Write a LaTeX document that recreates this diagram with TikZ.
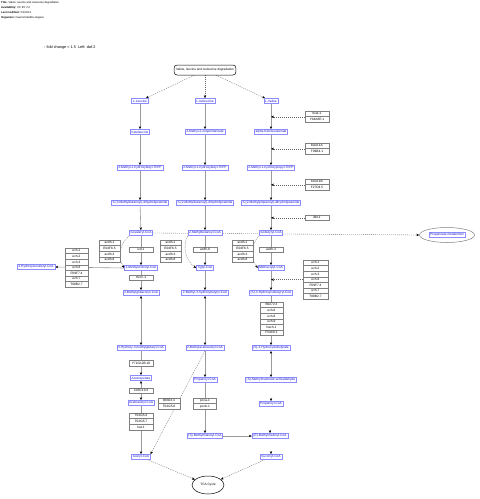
\documentclass[tikz,border=0pt]{standalone}
\usepackage{fontspec}
\setmainfont{Liberation Sans}
\usetikzlibrary{shapes.geometric,arrows.meta,calc}
\pgfdeclarelayer{back}
\pgfdeclarelayer{bg}
\pgfsetlayers{back,bg,main}
\definecolor{metb}{HTML}{8C8CFF}
\definecolor{mett}{HTML}{1010D0}
\definecolor{genb}{HTML}{808080}
\definecolor{lineg}{HTML}{9A9A9A}
\newcommand\gstack[5][24]{%
  \foreach \g [count=\i] in {#5} {
    \node[gene=#1pt] (#2-\i) at (#3,{#4+(\i-0.5)*5.6}) {\g};
  }%
}
\tikzset{
 tip/.tip={Stealth[length=3pt,width=2.4pt,color=black]},
 met/.style={draw=metb, line width=0.6pt, fill=white, text=mett, font=\fontsize{3.2}{3.6}\selectfont, inner xsep=1.2pt, inner ysep=0.6pt, minimum height=5pt},
 gene/.style={draw=genb, line width=0.5pt, fill=white, text=black, font=\fontsize{3.2}{3.6}\selectfont, minimum width=#1, minimum height=5.6pt, inner sep=0pt},
 gene/.default=24pt,
 conv/.style={draw=lineg, line width=0.6pt, -tip},
 conv2/.style={draw=lineg, line width=0.6pt, tip-tip},
 dconv/.style={draw=black!60, line width=0.35pt, dash pattern=on 1pt off 1pt, -tip},
 hdr/.style={anchor=west, font=\fontsize{2.7}{3}\selectfont, inner sep=0pt},
}
\begin{document}
\begin{tikzpicture}[x=1pt,y=-1pt]
\begin{pgfonlayer}{back}
\fill[white] (0,0) rectangle (480,499);
\end{pgfonlayer}
\useasboundingbox (0,0) rectangle (480,499);
% header
\node[hdr] (h1) at (1,3) {\textbf{Title:} Valine, leucine and isoleucine degradation};
\node[hdr] (h2) at (1,8) {\textbf{Availability:} CC BY 2.0};
\node[hdr] (h3) at (1,13) {\textbf{Last modified:} 2/1/2013};
\node[hdr] (h4) at (1,18) {\textbf{Organism:} Caenorhabditis elegans};
\node[anchor=west, font=\fontsize{3.8}{4.4}\selectfont, inner sep=0pt] (ttl) at (44,48) {: fold change < 1.5 \ Left: daf-2};
% top node
\node[draw, line width=0.5pt, rounded corners=3pt, fill=white, font=\fontsize{3.1}{3.5}\selectfont, minimum height=10pt, inner xsep=2pt] (top) at (205,70) {Valine, leucine and isoleucine degradation};
% metabolites
\node[met] (L1) at (140,101) {L-Leucine};
\node[met] (M1) at (205,101) {L-Isoleucine};
\node[met] (R1) at (271,101) {L-Valine};
\node[met] (L2) at (140,132) {Ketoleucine};
\node[met] (M2) at (205,132) {3-Methyl-2-oxopentanoate};
\node[met] (R2) at (271,132) {alpha-Ketoisovalerate};
\node[met] (L3) at (140,168) {3-Methyl-1-hydroxybutyl-ThPP};
\node[met] (M3) at (205,168) {2-Methyl-1-hydroxybutyl-ThPP};
\node[met] (R3) at (271,168) {2-Methyl-1-hydroxypropyl-ThPP};
\node[met] (L4) at (140,203) {S-(3-Methylbutanoyl)-dihydrolipoamide};
\node[met] (M4) at (205,203) {S-(2-Methylbutanoyl)-dihydrolipoamide};
\node[met] (R4) at (271,203) {S-(2-Methylpropanoyl)-dihydrolipoamide};
\node[met] (L5) at (141,233) {Isovaleryl-CoA};
\node[met] (M5) at (205,233) {2-Methylbutanoyl-CoA};
\node[met] (R5) at (271,233) {Isobutyryl-CoA};
\node[met] (L6) at (141,268) {3-Methylcrotonyl-CoA};
\node[met] (M6) at (205,268) {Tiglyl-CoA};
\node[met] (R6) at (271,268) {Methacrylyl-CoA};
\node[met] (FL) at (36,267) {3-Hydroxyisovaleryl-CoA};
\node[met] (L7) at (141,293) {3-Methylglutaconyl-CoA};
\node[met] (M7) at (205,293) {2-Methyl-3-hydroxybutyryl-CoA};
\node[met] (R7) at (271,293) {(S)-3-Hydroxyisobutyryl-CoA};
\node[met] (L8) at (141,348) {3-Hydroxy-3-methylglutaryl-CoA};
\node[met] (M8) at (205,348) {2-Methylacetoacetyl-CoA};
\node[met] (R8) at (271,348) {(S)-3-Hydroxyisobutyrate};
\node[met] (L9) at (141,378) {Acetoacetate};
\node[met] (M9) at (205,380) {Propanoyl-CoA};
\node[met] (R9) at (271,380) {(S)-Methylmalonate semialdehyde};
\node[met] (L10) at (141,403) {Acetoacetyl-CoA};
\node[met] (R10) at (271,404) {Propanoyl-CoA};
\node[met] (M11) at (205,436) {(S)-Methylmalonyl-CoA};
\node[met] (R11) at (270,436) {(R)-Methylmalonyl-CoA};
\node[met] (L11) at (141,457) {Acetyl-CoA};
\node[met] (R12) at (271,457) {Succinyl-CoA};
% ellipses
\node[ellipse, draw=genb, line width=0.5pt, fill=white, minimum width=55pt, minimum height=15pt] (pm) at (447,235) {};
\node[met] (pmt) at (447,235) {Propanoate metabolism};
\node[ellipse, draw, line width=0.5pt, fill=white, minimum width=32pt, minimum height=18pt, font=\fontsize{3.2}{3.6}\selectfont, inner sep=0pt] (tca) at (208,485) {TCA Cycle};
% gene boxes
\gstack{G1}{317}{111}{bcat-1,Y44A6E.1}
\gstack{G2}{317}{143}{bckd-1A,T09B4.1}
\gstack{G3}{317}{179}{bckd-1B,F27D4.5}
\gstack{G4}{317}{215}{dbt-1}
\gstack[21]{G5}{109.5}{240}{acdh-1,E04F6.5,acdh-3,acdh-8}
\gstack{G6}{141}{247}{ivd-1}
\gstack[21]{G7}{170.5}{240}{acdh-1,E04F6.5,acdh-3,acdh-8}
\gstack{G8}{205}{247}{acdh-8}
\gstack[21]{G9}{242.5}{240}{acdh-1,E04F6.5,acdh-3,acdh-8}
\gstack{G10}{271}{247}{acdh-3}
\gstack[23]{G11}{76.5}{248}{ech-1,ech-2,ech-3,ech-6,F09F7.4,ech-7,T08B2.7}
\gstack{G12}{141}{275}{mccc-1}
\gstack[25]{G13}{315.5}{260}{ech-1,ech-2,ech-3,ech-6,F09F7.4,ech-7,T08B2.7}
\gstack[23]{G14}{271.5}{302}{B0272.3,ech-6,ech-8,ech-9,hach-1,F54C8.1}
\gstack{G15}{141}{360.5}{Y71G12B.10}
\gstack{G16}{141}{388}{C05C10.3}
\gstack{G17}{141}{413}{T02G5.4,T02G5.7,kat-1}
\gstack[22]{G18}{169}{398}{B0303.3,T02G5.8}
\gstack[23]{G19}{205}{398}{pcca-1,pccb-1}
% connectors
\begin{pgfonlayer}{bg}
\draw[dconv] (top) -- (L1);
\draw[dconv] (top) -- (M1);
\draw[dconv] (top) -- (R1);
\foreach \c in {L,M,R} {
  \draw[conv] (\c1) -- (\c2);
  \draw[conv] (\c2) -- (\c3);
  \draw[conv] (\c3) -- (\c4);
  \draw[conv] (\c4) -- (\c5);
  \draw[conv] (\c5) -- (\c6);
  \draw[dconv] (\c5.south west) to[bend right=40] (\c6.west);
}
\draw[dconv] (G1-1.south west) -- (R1 |- G1-1.south);
\draw[dconv] (G2-1.south west) -- (R1 |- G2-1.south);
\draw[dconv] (G3-1.south west) -- (R1 |- G3-1.south);
\draw[dconv] (G4-1.west) -- (R1 |- G4-1.west);
\draw[dconv] (L5.east) -- (pm.west);
\draw[conv] (L6.west) -- (FL.east);
\draw[conv] (L6) -- (L7);
\draw[conv2] (L7) -- (L8);
\draw[conv] (L8) -- (L9);
\draw[conv2] (L9) -- (L10);
\draw[conv] (L10) -- (L11);
\draw[conv] (M6) -- (M7);
\draw[conv2] (M7) -- (M8);
\draw[conv] (M8) -- (M9);
\draw[conv] (M9) -- (M11);
\draw[conv] (M11) -- (R11);
\draw[dconv] (M8.south) -- (L11.north east);
\draw[conv] (R6) -- (R7);
\draw[dconv] (G13-4.west) -- (R6 |- G13-4.west);
\draw[conv] (R7) -- (R8);
\draw[conv2] (R8) -- (R9);
\coordinate (s10) at ($(R10.north)+(0,-3)$);
\coordinate (s11) at ($(R11.north)+(0,-3)$);
\coordinate (s12) at ($(R12.north)+(0,-3)$);
\draw[conv] (s10) -- (R10.north);
\draw[conv] (s11) -- (R11.north);
\draw[conv] (s12) -- (R12.north);
\draw[dconv] (L11) -- (tca);
\draw[dconv] (R12) -- (tca);
\end{pgfonlayer}
\end{tikzpicture}
\end{document}
